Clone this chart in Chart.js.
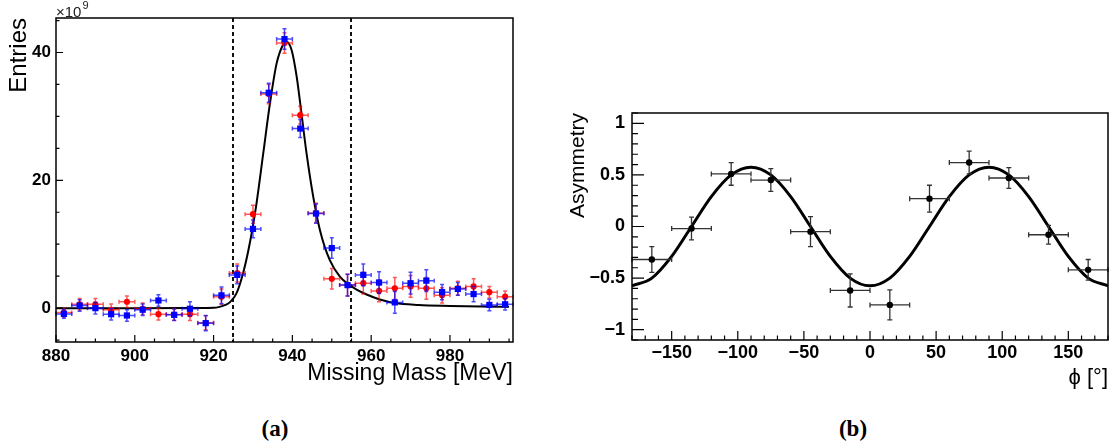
<!DOCTYPE html>
<html lang="en">
<head>
<meta charset="UTF-8">
<title>Missing mass and beam asymmetry</title>
<script src="https://cdn.jsdelivr.net/npm/chart.js@4/dist/chart.umd.min.js"></script>
<style>
    body { margin: 0; background: #fff; width: 1112px; height: 446px; overflow: hidden; position: relative; }
    .box { position: absolute; }
    #boxA { left: 0; top: 0; }
    #boxB { left: 545px; top: 95px; }
    .cap { position: absolute; top: 416px; width: 60px; text-align: center; line-height: 26px;
           font-family: "Liberation Serif", "Times New Roman", serif; font-weight: bold; font-size: 23px; color: #000; }
</style>
</head>
<body>
    <div class="box" id="boxA"><canvas id="massChart" width="520" height="400"></canvas></div>
    <div class="box" id="boxB"><canvas id="asymChart" width="567" height="305"></canvas></div>
    <div class="cap" style="left:245px">(a)</div>
    <div class="cap" style="left:823px">(b)</div>

<script>
    // ***********
    // (a) missing mass spectrum, two samples + fit, in units of 1e9 entries
    // ***********
    var massBins    = [882, 886, 890, 894, 898, 902, 906, 910, 914, 918, 922, 926, 930, 934, 938,
                       942, 946, 950, 954, 958, 962, 966, 970, 974, 978, 982, 986, 990, 994];
    var massRed     = [-0.7, 0.6, 0.6, -0.25, 1.0, -0.1, -0.95, -1.0, -0.95, -2.3, 1.8, 5.5, 14.7, 33.5, 41.5,
                       30.2, 14.9, 4.6, 3.6, 3.9, 2.7, 3.1, 3.4, 3.1, 2.0, 3.1, 3.4, 2.5, 1.8];
    var massRedErr  = [0.7, 0.9, 0.9, 0.9, 0.9, 0.9, 0.9, 0.9, 1.0, 1.1, 1.2, 1.4, 1.4, 1.5, 1.6,
                       1.4, 1.5, 1.6, 1.7, 1.7, 1.7, 1.7, 1.7, 1.7, 1.2, 1.1, 1.2, 0.9, 0.9];
    var massBlue    = [-0.9, 0.4, 0.0, -0.95, -1.15, -0.25, 1.2, -1.05, -0.1, -2.35, 2.0, 5.2, 12.4, 33.7, 42.1,
                       28.1, 14.8, 9.4, 3.6, 5.2, 4.0, 0.9, 3.9, 4.3, 2.5, 3.0, 2.2, 0.5, 0.6];
    var massBlueErr = [0.7, 0.9, 0.9, 0.9, 0.9, 0.9, 0.9, 0.9, 1.1, 1.2, 1.3, 1.4, 1.4, 1.5, 1.6,
                       1.4, 1.5, 1.6, 1.7, 1.7, 1.7, 1.7, 1.7, 1.7, 1.2, 1.0, 1.2, 0.9, 0.9];
    var massHalfBin = 2;
    var fitMassX    = [880, 900, 916, 920, 921.5, 923, 924.1, 925.8, 927.5, 929.2, 930.9, 932.6, 934.3, 936.0,
                       937.7, 938.5, 939.8, 941.1, 942.3, 943.6, 945.3, 947.0, 949.5, 952.1, 954.6, 956.3,
                       959, 962, 966, 972, 980, 988, 995];
    var fitMassY    = [0, 0, 0.02, 0.05, 0.2, 0.5, 0.9, 2.3, 5.5, 10.2, 16.4, 24.2, 32.0, 38.3,
                       41.3, 41.7, 40.4, 36.2, 30.5, 24.2, 17.4, 12.2, 7.5, 4.9, 3.6, 2.9,
                       2.1, 1.4, 0.8, 0.5, 0.35, 0.25, 0.2];
    var massCuts    = [925, 955];
    var massTicksX  = [880, 900, 920, 940, 960, 980];
    var massTicksY  = [0, 20, 40];

    // ***********
    // (b) asymmetry vs phi + cos(2 phi) fit
    // ***********
    var phiBins     = [-165, -135, -105, -75, -45, -15, 15, 45, 75, 105, 135, 165];
    var asym        = [-0.32, -0.02, 0.51, 0.45, -0.05, -0.62, -0.76, 0.27, 0.62, 0.47, -0.08, -0.42];
    var asymErr     = [0.125, 0.11, 0.11, 0.11, 0.145, 0.16, 0.145, 0.13, 0.11, 0.10, 0.09, 0.10];
    var phiHalfBin  = 15;
    var fitPhiX     = [-180, -165, -150, -135, -120, -105, -90, -75, -60, -45, -30, -15, 0,
                       15, 30, 45, 60, 75, 90, 105, 120, 135, 150, 165, 180];
    var fitPhiY     = [-0.575, -0.50, -0.29, 0.0, 0.29, 0.50, 0.575, 0.50, 0.29, 0.0, -0.29, -0.50, -0.575,
                       -0.50, -0.29, 0.0, 0.29, 0.50, 0.575, 0.50, 0.29, 0.0, -0.29, -0.50, -0.575];
    var phiTicks    = [-150, -100, -50, 0, 50, 100, 150];
    var asymTicks   = [-1, -0.5, 0, 0.5, 1];

    Chart.defaults.font.family = "'Liberation Sans', Arial, Helvetica, sans-serif";
    Chart.defaults.color = '#000';

    // zip x/y arrays into point objects
    function points(xs, ys) {
        return xs.map(function(x, i) { return {x: x, y: ys[i]}; });
    }

    // proper minus sign like ROOT
    function rootLabel(v) {
        return v < 0 ? '\u2212' + Math.abs(v) : String(v);
    }

    // ROOT look: frame, inward ticks, error bars, dashed cuts, exponent
    var rootStyle = {
        id: 'rootStyle',
        beforeDatasetsDraw: function(chart) {
            var o = chart.options.plugins.rootStyle;
            if (!o.cuts) return;
            var ctx = chart.ctx, a = chart.chartArea, xs = chart.scales.x;
            ctx.save();
            ctx.strokeStyle = '#111';
            ctx.lineWidth = 2;
            ctx.setLineDash([4, 3]);
            o.cuts.forEach(function(c) {
                var px = Math.round(xs.getPixelForValue(c));
                ctx.beginPath();
                ctx.moveTo(px, a.top);
                ctx.lineTo(px, a.bottom);
                ctx.stroke();
            });
            ctx.restore();
        },
        beforeDatasetDraw: function(chart, args) {
            var ds = chart.data.datasets[args.index];
            if (!ds.errY) return;
            var ctx = chart.ctx, xs = chart.scales.x, ys = chart.scales.y;
            var c = ds.capSize;
            ctx.save();
            ctx.strokeStyle = ds.errColor;
            ctx.lineWidth = ds.errWidth;
            ds.data.forEach(function(p, i) {
                var px = xs.getPixelForValue(p.x), py = ys.getPixelForValue(p.y);
                var x0 = xs.getPixelForValue(p.x - ds.errX), x1 = xs.getPixelForValue(p.x + ds.errX);
                var y0 = ys.getPixelForValue(p.y - ds.errY[i]), y1 = ys.getPixelForValue(p.y + ds.errY[i]);
                ctx.beginPath();
                ctx.moveTo(x0, py); ctx.lineTo(x1, py);
                ctx.moveTo(px, y0); ctx.lineTo(px, y1);
                ctx.moveTo(x0, py - c); ctx.lineTo(x0, py + c);
                ctx.moveTo(x1, py - c); ctx.lineTo(x1, py + c);
                ctx.moveTo(px - c, y0); ctx.lineTo(px + c, y0);
                ctx.moveTo(px - c, y1); ctx.lineTo(px + c, y1);
                ctx.stroke();
            });
            ctx.restore();
        },
        afterDraw: function(chart) {
            var o = chart.options.plugins.rootStyle;
            var ctx = chart.ctx, a = chart.chartArea, xs = chart.scales.x, ys = chart.scales.y;
            ctx.save();
            ctx.strokeStyle = '#000';
            ctx.lineWidth = 1.5;
            ctx.strokeRect(a.left, a.top, a.right - a.left, a.bottom - a.top);

            ctx.lineWidth = 1.2;
            ctx.beginPath();
            // x axis ticks (inward, from the bottom)
            var v;
            for (v = Math.ceil(xs.min / o.xMinor) * o.xMinor; v <= xs.max; v += o.xMinor) {
                var px = xs.getPixelForValue(v);
                var major = o.xMajor.indexOf(v) >= 0;
                ctx.moveTo(px, a.bottom);
                ctx.lineTo(px, a.bottom - (major ? o.xLen : o.xLen / 2));
            }
            // y axis ticks (inward, from the left)
            var n0 = Math.ceil(ys.min / o.yMinor - 1e-6), n1 = Math.floor(ys.max / o.yMinor + 1e-6);
            for (var n = n0; n <= n1; n++) {
                v = Math.round(n * o.yMinor * 1000) / 1000;
                var py = ys.getPixelForValue(v);
                var majorY = o.yMajor.indexOf(v) >= 0;
                ctx.moveTo(a.left, py);
                ctx.lineTo(a.left + (majorY ? o.yLen : o.yLen / 2), py);
            }
            ctx.stroke();

            // common exponent above the y axis
            if (o.exponent) {
                ctx.fillStyle = '#222';
                ctx.textBaseline = 'alphabetic';
                ctx.textAlign = 'left';
                ctx.font = "15px 'Liberation Sans', Arial, sans-serif";
                ctx.fillText('\u00d710', a.left, a.top - 1);
                var w = ctx.measureText('\u00d710').width;
                ctx.font = "11px 'Liberation Sans', Arial, sans-serif";
                ctx.fillText(o.exponent, a.left + w + 1, a.top - 9);
            }
            ctx.restore();
        }
    };
    Chart.register(rootStyle);

    // ********
    // (a) Missing mass
    // ********
    new Chart(document.getElementById('massChart'), {
        type: 'scatter',
        data: {
            datasets: [{
                data: points(massBins, massBlue),
                errY: massBlueErr, errX: massHalfBin, errColor: 'rgba(0,0,255,0.7)', errWidth: 1.5, capSize: 2,
                pointStyle: 'rect', pointRadius: 4.4, pointBackgroundColor: '#0000ff', pointBorderWidth: 0
            }, {
                data: points(massBins, massRed),
                errY: massRedErr, errX: massHalfBin, errColor: 'rgba(255,0,0,0.65)', errWidth: 1.5, capSize: 2,
                pointStyle: 'circle', pointRadius: 3.1, pointBackgroundColor: '#ff0000', pointBorderWidth: 0
            }, {
                data: points(fitMassX, fitMassY),
                showLine: true, borderColor: '#000', borderWidth: 2, pointRadius: 0,
                cubicInterpolationMode: 'monotone'
            }]
        },
        options: {
            responsive: false,
            animation: false,
            events: [],
            layout: { padding: { top: 18, right: 7, left: 0, bottom: 0 } },
            plugins: {
                legend: { display: false },
                tooltip: { enabled: false },
                rootStyle: { cuts: massCuts, xMajor: massTicksX, xMinor: 5, xLen: 7,
                             yMajor: massTicksY, yMinor: 5, yLen: 7, exponent: '9' }
            },
            scales: {
                x: {
                    type: 'linear', min: 880, max: 996,
                    grid: { display: false, drawTicks: false }, border: { display: false },
                    afterBuildTicks: function(s) { s.ticks = massTicksX.map(function(v) { return {value: v}; }); },
                    afterFit: function(s) { s.height = 58; },
                    ticks: { padding: 4, maxRotation: 0, autoSkip: false, font: { size: 17, weight: 'bold' } },
                    title: { display: true, text: 'Missing Mass [MeV]', align: 'end', font: { size: 23 },
                             padding: { top: 0, bottom: 13 } }
                },
                y: {
                    type: 'linear', min: -5.3, max: 45.4,
                    grid: { display: false, drawTicks: false }, border: { display: false },
                    afterBuildTicks: function(s) { s.ticks = massTicksY.map(function(v) { return {value: v}; }); },
                    afterFit: function(s) { s.width = 56; },
                    ticks: { padding: 5, font: { size: 17, weight: 'bold' } },
                    title: { display: true, text: 'Entries', align: 'end', font: { size: 24 },
                             padding: { top: 5, bottom: 0 } }
                }
            }
        }
    });

    // ********
    // (b) Asymmetry
    // ********
    new Chart(document.getElementById('asymChart'), {
        type: 'scatter',
        data: {
            datasets: [{
                data: points(phiBins, asym),
                errY: asymErr, errX: phiHalfBin, errColor: '#333', errWidth: 1.3, capSize: 2.5,
                pointStyle: 'circle', pointRadius: 3.2, pointBackgroundColor: '#000', pointBorderWidth: 0
            }, {
                data: points(fitPhiX, fitPhiY),
                showLine: true, borderColor: '#000', borderWidth: 3, pointRadius: 0,
                cubicInterpolationMode: 'monotone'
            }]
        },
        options: {
            responsive: false,
            animation: false,
            events: [],
            layout: { padding: { top: 18, right: 3, left: 0, bottom: 0 } },
            plugins: {
                legend: { display: false },
                tooltip: { enabled: false },
                rootStyle: { xMajor: phiTicks, xMinor: 10, xLen: 9,
                             yMajor: asymTicks, yMinor: 0.1, yLen: 12 }
            },
            scales: {
                x: {
                    type: 'linear', min: -180, max: 180,
                    grid: { display: false, drawTicks: false }, border: { display: false },
                    afterBuildTicks: function(s) { s.ticks = phiTicks.map(function(v) { return {value: v}; }); },
                    afterFit: function(s) { s.height = 60; },
                    ticks: { padding: 2, maxRotation: 0, autoSkip: false, font: { size: 18, weight: 'bold' },
                             callback: rootLabel },
                    title: { display: true, text: '\u03d5 [\u00b0]', align: 'end', font: { size: 22 },
                             padding: { top: 0, bottom: 9 } }
                },
                y: {
                    type: 'linear', min: -1.1, max: 1.1,
                    grid: { display: false, drawTicks: false }, border: { display: false },
                    afterBuildTicks: function(s) { s.ticks = asymTicks.map(function(v) { return {value: v}; }); },
                    afterFit: function(s) { s.width = 87; },
                    ticks: { padding: 7, font: { size: 18, weight: 'bold' }, callback: rootLabel },
                    title: { display: true, text: 'Asymmetry', align: 'end', font: { size: 21 },
                             padding: { top: 21, bottom: 0 } }
                }
            }
        }
    });
</script>
</body>
</html>
